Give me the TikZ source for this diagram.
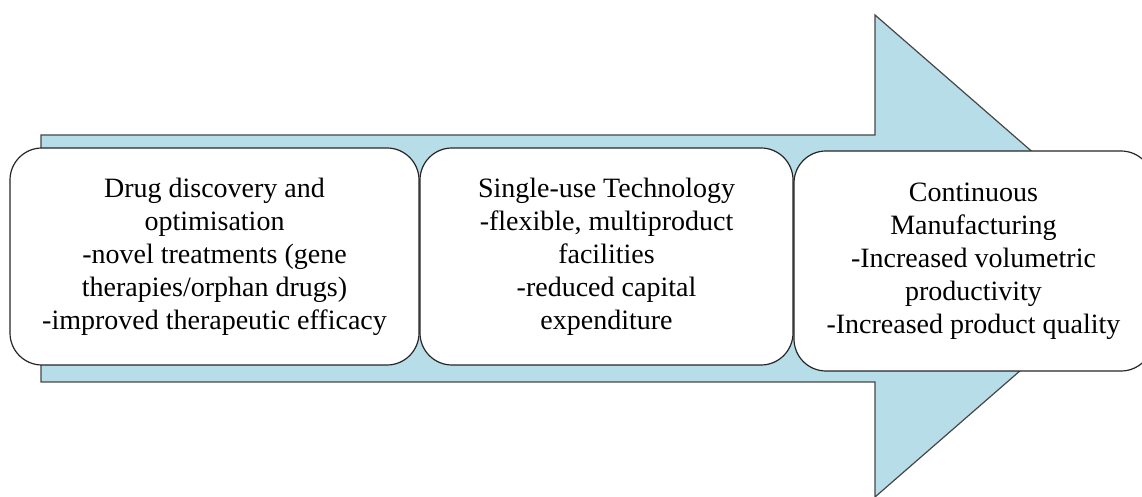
\documentclass[tikz,border=0pt]{standalone}
\usepackage{fontspec}
\setmainfont{Liberation Serif}
\usepackage{tikz}
\usepackage{xcolor}

\definecolor{shaftblue}{RGB}{183,221,232}
\definecolor{edgegray}{RGB}{70,70,70}

\tikzset{
  stage/.style={draw=black!85, line width=1.2pt, fill=white, rounded corners=32pt,
    minimum height=217pt, align=center, inner sep=0pt,
    font=\fontsize{28}{33}\selectfont},
}

\begin{document}
\begin{tikzpicture}[x=1pt,y=1pt]
        \useasboundingbox (0,0) rectangle (1142,497);

        % big arrow behind
        \draw[fill=shaftblue, draw=edgegray, line width=1.2pt]
            (41,362) -- (875,362) -- (875,482) -- (1152,241)
            -- (875,0) -- (875,115) -- (41,115) -- cycle;

        % stages
        \node[stage, minimum width=409pt] (drug) at (214.5,240.5)
            {Drug discovery and\\optimisation\\-novel treatments (gene\\therapies/orphan drugs)\\-improved therapeutic efficacy};
        \node[stage, minimum width=373pt] (single) at (606.5,240.5)
            {Single-use Technology\\-flexible, multiproduct\\facilities\\-reduced capital\\expenditure};
        \node[stage, minimum width=359pt, minimum height=220pt] (contin) at (973.5,236)
            {Continuous\\Manufacturing\\-Increased volumetric\\productivity\\-Increased product quality};
    \end{tikzpicture}
\end{document}
